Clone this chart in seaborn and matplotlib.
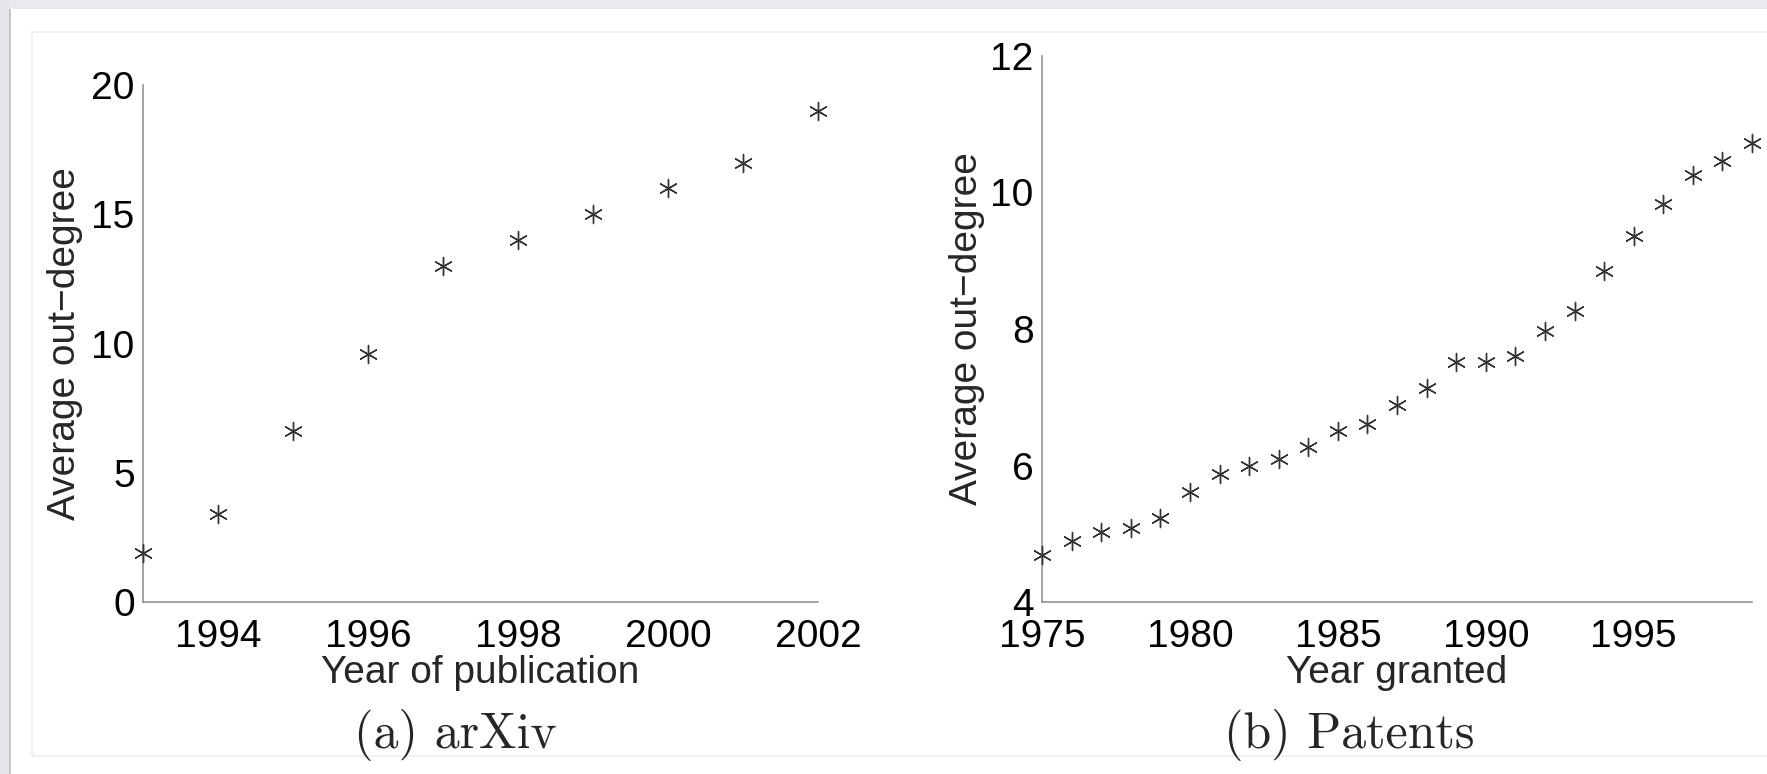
import numpy as np
import pandas as pd
import matplotlib
matplotlib.use('Agg')
import matplotlib.pyplot as plt
from matplotlib.patches import Rectangle
import seaborn as sns

# arXiv: average out-degree per year of publication
arxiv_years = [1993, 1994, 1995, 1996, 1997, 1998, 1999, 2000, 2001, 2002]
arxiv_degree = [1.9, 3.4, 6.6, 9.6, 13.0, 14.0, 15.0, 16.0, 17.0, 19.0]

# Patents: average out-degree per year granted
patent_years = list(range(1975, 2000))
patent_degree = [4.69, 4.89, 5.03, 5.09, 5.23, 5.61, 5.87, 6.00, 6.10, 6.27,
                 6.51, 6.61, 6.89, 7.14, 7.51, 7.51, 7.61, 7.97, 8.27, 8.85,
                 9.36, 9.83, 10.26, 10.46, 10.72]

arxiv_xticks = [1994, 1996, 1998, 2000, 2002]
arxiv_yticks = [0, 5, 10, 15, 20]
patent_xticks = [1975, 1980, 1985, 1990, 1995]
patent_yticks = [4, 6, 8, 10, 12]

sns.set_style('white')
plt.rcParams['font.family'] = ['Liberation Sans', 'DejaVu Sans']

W, H = 1767, 774
fig = plt.figure(figsize=(W / 100, H / 100), dpi=100)

# screenshot frame around the page
fig.patches.append(Rectangle((0, 1 - 9 / H), 1, 9 / H, transform=fig.transFigure,
                             facecolor='#e8eaed', edgecolor='none', zorder=0))
fig.patches.append(Rectangle((0, 0), 9 / W, 1, transform=fig.transFigure,
                             facecolor='#e3e5e8', edgecolor='none', zorder=0))
fig.patches.append(Rectangle((9 / W, 0), 2 / W, 1 - 9 / H, transform=fig.transFigure,
                             facecolor='#c4c6c9', edgecolor='none', zorder=0))
fig.patches.append(Rectangle((32 / W, 1 - 756 / H), 1.2, (756 - 32) / H,
                             transform=fig.transFigure, facecolor='none',
                             edgecolor='#eeeeee', linewidth=1.2, zorder=0))

axis_gray = '#8a8a8a'
mark_color = '#333333'


def panel(rect, x, y, xlim, ylim, xticks, yticks, xlabel, ylab_x):
    ax = fig.add_axes(rect)
    df = pd.DataFrame({'year': x, 'deg': y})
    sns.scatterplot(data=df, x='year', y='deg', ax=ax, marker=(6, 2, 0), s=170,
                    color=mark_color, edgecolor=mark_color, linewidth=1.0,
                    clip_on=False, zorder=3)
    ax.set_xlim(*xlim)
    ax.set_ylim(*ylim)
    ax.set_xticks(xticks)
    ax.set_yticks(yticks)
    for side in ['top', 'right']:
        ax.spines[side].set_visible(False)
    for side in ['left', 'bottom']:
        ax.spines[side].set_color(axis_gray)
        ax.spines[side].set_linewidth(1.1)
    ax.tick_params(direction='in', length=5, width=1.1, color=axis_gray,
                   labelsize=28, labelcolor='black')
    ax.tick_params(axis='x', pad=12)
    ax.tick_params(axis='y', pad=6)
    ax.set_xlabel(xlabel, fontsize=28, labelpad=0)
    ax.set_ylabel('Average out\u2212degree', fontsize=28)
    ax.yaxis.set_label_coords(ylab_x, 0.5)
    ax.yaxis.label.set_va('center')
    ax.patch.set_alpha(0)
    return ax


ax1 = panel([143 / W, 1 - 602 / H, (818 - 143) / W, (602 - 85) / H],
            arxiv_years, arxiv_degree, (1993, 2002), (0, 20),
            arxiv_xticks, arxiv_yticks, 'Year of publication', (65 - 143) / (818 - 143))
ax2 = panel([1042 / W, 1 - 602 / H, (1752 - 1042) / W, (602 - 56) / H],
            patent_years, patent_degree, (1975, 1999), (4, 12),
            patent_xticks, patent_yticks, 'Year granted', (967 - 1042) / (1752 - 1042))

fig.text(455 / W, 1 - 748 / H, '(a) arXiv', family='cmr10', fontsize=36,
         ha='center', va='baseline')
fig.text(1349 / W, 1 - 748 / H, '(b) Patents', family='cmr10', fontsize=36,
         ha='center', va='baseline')

fig.savefig('out.png', dpi=100)
